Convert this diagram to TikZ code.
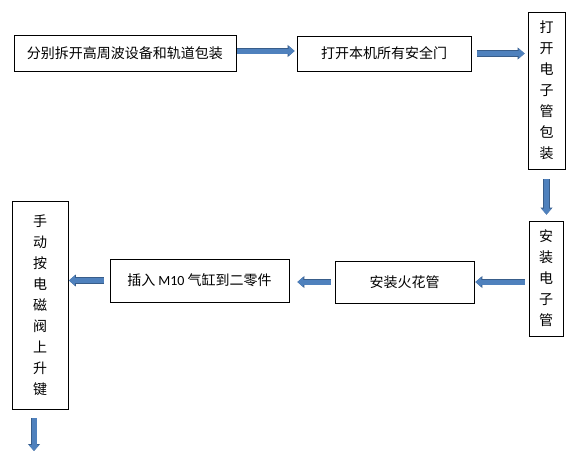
\documentclass[tikz,border=0pt]{standalone}
\usepackage{fontspec}
\newfontfamily\cjk{Noto Sans CJK SC}
\newfontfamily\latn{Carlito}
\usetikzlibrary{arrows.meta}
\definecolor{arrfill}{RGB}{79,129,189}
\definecolor{arredge}{RGB}{56,93,138}
\tikzset{
  box/.style={draw=black, line width=0.8pt, fill=white, inner sep=0pt, align=center,
    font=\cjk\fontsize{14}{21}\selectfont},
  blockarrow/.style={draw=arrfill, line width=5pt, -{Triangle[length=6pt,width=10pt]},
    preaction={draw=arredge, line width=6.4pt, -{Triangle[length=7pt,width=11.6pt]}}}
}
\begin{document}
\begin{tikzpicture}[x=1pt,y=-1pt]
\useasboundingbox (0,0) rectangle (579,455);
\fill[white] (0,0) rectangle (579,455);
\node[box, minimum width=222pt, minimum height=36pt] (b1) at (125,53) {分别拆开高周波设备和轨道包装};
\node[box, minimum width=174pt, minimum height=35pt] (b2) at (384,53.5) {打开本机所有安全门};
\node[box, minimum width=37pt, minimum height=157pt] (b3) at (546.5,90.5) {打\\开\\电\\子\\管\\包\\装};
\node[box, minimum width=34pt, minimum height=115pt] (b4) at (546,278.5) {安\\装\\电\\子\\管};
\node[box, minimum width=139pt, minimum height=42pt] (b5) at (404.5,282) {安装火花管};
\node[box, minimum width=179pt, minimum height=43pt] (b6) at (199.5,280.5) {插入 {\latn M10} 气缸到二零件};
\node[box, minimum width=56pt, minimum height=208pt] (b7) at (40,305) {手\\动\\按\\电\\磁\\阀\\上\\升\\键};
\coordinate (endpt) at (34,452);
\coordinate (b7s) at (34,409);
\draw[blockarrow, shorten <=1pt, shorten >=2pt] ([yshift=2pt]b1.east) -- ([yshift=2pt]b1.east -| b2.west);
\draw[blockarrow, shorten <=6pt, shorten >=3pt] (b2.east) -- (b2.east -| b3.west);
\draw[blockarrow, shorten <=10pt, shorten >=6pt] (b3.south) -- (b3.south |- b4.north);
\draw[blockarrow, shorten <=4pt, shorten >=1pt] (b4.west |- b5.east) -- (b5.east);
\draw[blockarrow, shorten <=4pt, shorten >=8pt] (b5.west) -- (b5.west -| b6.east);
\draw[blockarrow, shorten <=6pt, shorten >=0.5pt] (b6.west) -- (b6.west -| b7.east);
\draw[blockarrow, shorten <=9pt, shorten >=1pt] (b7s) -- (endpt);
\end{tikzpicture}
\end{document}
